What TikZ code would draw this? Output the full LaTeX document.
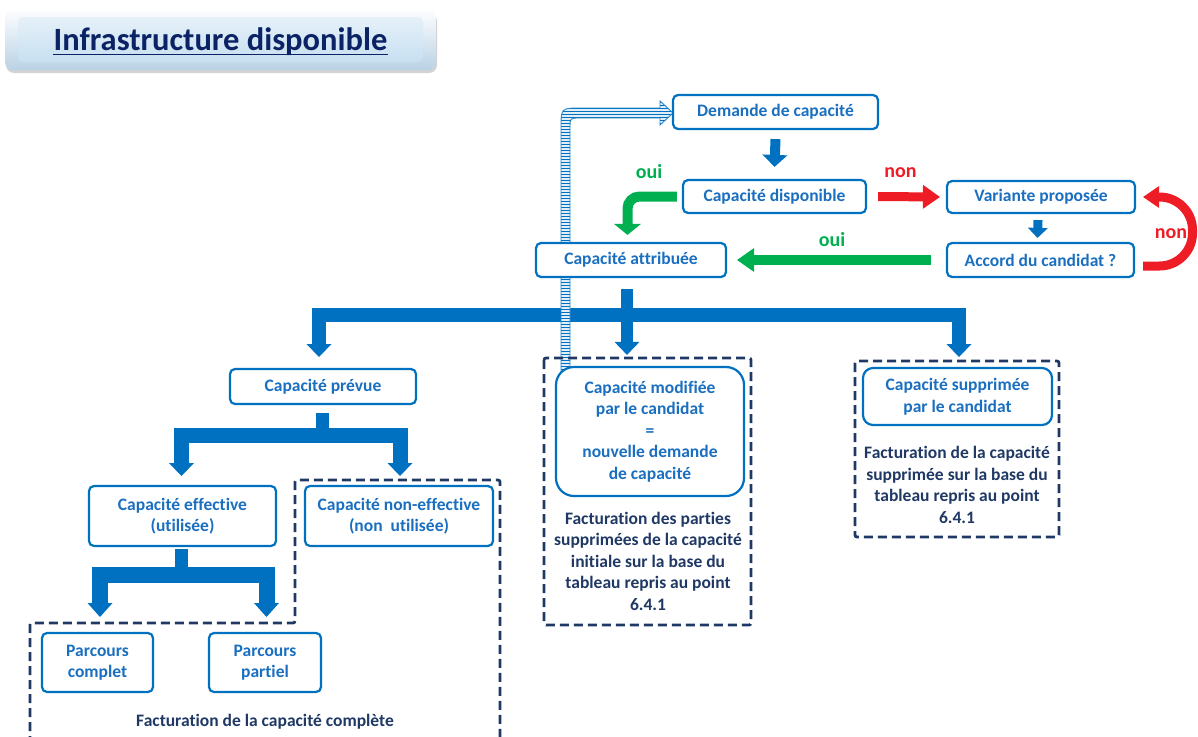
\documentclass[tikz,border=0pt]{standalone}
\usepackage{fontspec}
\setmainfont{Carlito}[RawFeature=-liga]
\usetikzlibrary{arrows.meta,calc,patterns,shadows,backgrounds}
\definecolor{bx}{HTML}{0070C0}
\definecolor{tx}{HTML}{1A6FC0}
\definecolor{navy}{HTML}{1F3864}
\definecolor{tnavy}{HTML}{0B2265}
\definecolor{gr}{HTML}{00B050}
\definecolor{rd}{HTML}{EE1C25}
\begin{document}
\begin{tikzpicture}[x=1pt,y=-1pt,
  lbl/.style={font=\bfseries\fontsize{17.5}{21.5}\selectfont, align=center, inner sep=0pt},
  yn/.style={font=\bfseries\fontsize{20}{24}\selectfont, inner sep=0pt},
  box/.style n args={2}{lbl, draw=bx, line width=2.2pt, rounded corners=5pt, fill=white, text=tx,
      minimum width=#1pt, minimum height=#2pt},
  note/.style={lbl, text=navy},
  dbox/.style={draw=navy, line width=2.8pt, dash pattern=on 9pt off 5pt, rounded corners=2pt},
  fat/.style n args={4}{draw=#1, line width=#2pt, line join=miter,
      -{Triangle[width=#3pt,length=#4pt,line width=0pt]}},
  fork/.style n args={3}{draw=bx, line width=#1pt, line join=miter,
      {Triangle[width=#2pt,length=#3pt,line width=0pt]}-{Triangle[width=#2pt,length=#3pt,line width=0pt]}}
]
\useasboundingbox (0,0) rectangle (1198,736);

% title
\path[rounded corners=8pt, drop shadow={opacity=0.35, shadow xshift=1pt, shadow yshift=-3pt},
      top color=white!90!blue!8, bottom color=bx!25!white!90!gray] (5,10) rectangle (436,70);
\path[rounded corners=5pt, top color=bx!10!white, bottom color=bx!22!white] (18,17) rectangle (423,62);
\node[font=\bfseries\fontsize{32.5}{38}\selectfont, text=tnavy, inner sep=0pt, anchor=base] (title) at (220.5,50) {Infrastructure disponible};
\draw[tnavy, line width=1.8pt] ($(title.base west)+(0,4.5)$) -- ($(title.base east)+(0,4.5)$);

% nodes
\node[box={205}{34}] (dem) at (775.5,112) {Demande de capacité};
\node[box={183}{33}] (disp) at (774.5,196.5) {Capacité disponible};
\node[box={188}{32}] (var) at (1041,197) {Variante proposée};
\node[box={187}{34}] (acc) at (1040.5,260) {Accord du candidat ?};
\node[box={190}{34}] (attr) at (631,260) {Capacité attribuée};
\node[box={186}{35}] (prev) at (323,386.5) {Capacité prévue};
\node[box={187}{60}] (eff) at (182.5,516) {Capacité effective\\(utilisée)};
\node[box={188}{60}] (noneff) at (399,516) {Capacité non-effective\\(non~~utilisée)};
\node[box={111}{59}] (pc) at (97.5,662.5) {Parcours\\complet};
\node[box={112}{59}] (pp) at (265,662.5) {Parcours\\partiel};
\node[box={188}{129}, rounded corners=18pt] (mod) at (650,431.5) {Capacité modifiée\\par le candidat\\=\\nouvelle demande\\de capacité};
\node[box={189}{57}, rounded corners=10pt] (sup) at (957.5,396.5) {Capacité supprimée\\par le candidat};

\node[note] (fmod) at (648,561) {Facturation des parties\\supprimées de la capacité\\initiale sur la base du\\tableau repris au point\\6.4.1};
\node[note] (fsup) at (957,485) {Facturation de la capacité\\supprimée sur la base du\\tableau repris au point\\6.4.1};
\node[note] (fcomp) at (265,722) {Facturation de la capacité complète};

\node[yn, text=gr] (oui1) at (649,172) {oui};
\node[yn, text=rd] (non1) at (900.5,173) {non};
\node[yn, text=gr] (oui2) at (832,240) {oui};
\node[yn, text=rd] (non2) at (1171,234) {non};

% dashed groups
\draw[dbox] (544,358) rectangle (751,625);
\draw[dbox] (855,361) rectangle (1059,537);
\draw[dbox] (30,745) -- (30,623) -- (295,623) -- (295,480) -- (500,480) -- (500,745);

\begin{scope}[on background layer]
  % simple arrows
  \draw[fat={bx}{10}{25}{12}] ($(dem.south)+(0,9)$) -- ($(disp.north)+(0,-12)$);
  \draw[fat={bx}{9}{20}{10}] ($(var.south)+(-3,6)$) -- ($(acc.north)+(-3,-4)$);
  \draw[fat={rd}{9}{24}{17}] ($(disp.east)+(11,0)$) -- ($(var.west)+(-6,0)$);
  \draw[fat={gr}{10}{24}{17}] ($(acc.west)+(-15,0)$) -- ($(attr.east)+(10,0)$);
  \draw[fat={gr}{10}{27}{11}, rounded corners=12pt] ($(disp.west)+(-5,0)$) -- (627.5,196.5) -- ($(attr.north)+(-3.5,-7)$);
  \draw[fat={rd}{9}{22}{16}, rounded corners=33pt] ($(acc.east)+(8,6)$) -- (1192.5,266) -- (1192.5,197) -- ($(var.east)+(7,0)$);
  % fork under Capacité attribuée
  \draw[fork={14}{25}{13}] (319,357) -- (319,315) -- (959,315) -- (959,357);
  \draw[draw=bx, line width=12.5pt] ($(attr.south)+(-4,11)$) -- (627,315);
  \draw[fat={bx}{12.5}{25}{13}] (627,315) -- ($(mod.north)+(-23,-11)$);
  % fork under Capacité prévue
  \draw[draw=bx, line width=13pt] ($(prev.south)+(-1,8)$) -- (322,435);
  \draw[fork={15}{25}{13}] (181.5,476) -- (181.5,435) -- (400,435) -- (400,476);
  % fork under Capacité effective
  \draw[draw=bx, line width=13pt] ($(eff.south)+(-1,2)$) -- (181.5,575);
  \draw[fork={16}{25}{14}] (100,617) -- (100,575) -- (266.5,575) -- (266.5,617);
  % striped return arrow
  \path[fill=bx!12] (561,372) -- (561,128) .. controls (561,108) .. (581,108) -- (660,108) -- (660,101) -- (673,113) -- (660,125) -- (660,118) -- (580,118) .. controls (570,118) .. (570,128) -- (570,372) -- cycle;
  \path[pattern=horizontal lines, pattern color=bx] (561,372) -- (561,128) .. controls (561,108) .. (581,108) -- (660,108) -- (660,101) -- (673,113) -- (660,125) -- (660,118) -- (580,118) .. controls (570,118) .. (570,128) -- (570,372) -- cycle;
  \draw[bx!85, line width=0.9pt] (561,372) -- (561,128) .. controls (561,108) .. (581,108) -- (660,108) -- (660,101) -- (673,113) -- (660,125) -- (660,118) -- (580,118) .. controls (570,118) .. (570,128) -- (570,372);
\end{scope}
\end{tikzpicture}
\end{document}
